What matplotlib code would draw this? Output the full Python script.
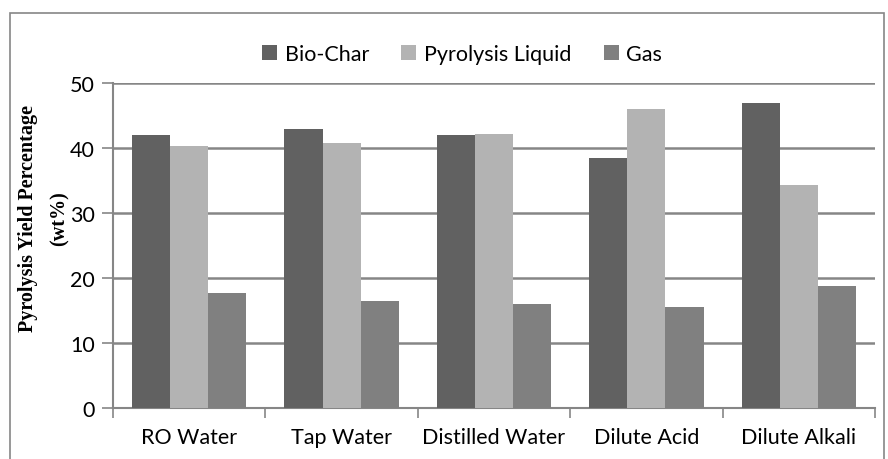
import matplotlib.pyplot as plt
import numpy as np
from matplotlib.patches import Rectangle

categories = ['RO Water', 'Tap Water', 'Distilled Water', 'Dilute Acid', 'Dilute Alkali']
bio_char = [42.0, 42.9, 42.0, 38.4, 46.9]
pyro_liquid = [40.3, 40.7, 42.1, 46.0, 34.3]
gas = [17.7, 16.5, 16.0, 15.6, 18.7]

series = ['Bio-Char', 'Pyrolysis Liquid', 'Gas']
colors = ['#616161', '#b3b3b3', '#808080']

fig = plt.figure(figsize=(8.88, 4.6), dpi=100)
ax = fig.add_axes([113/888, 1 - 409/460, 762/888, 325/460])

x = np.arange(len(categories))
w = 0.25
for i, (vals, name, c) in enumerate(zip([bio_char, pyro_liquid, gas], series, colors)):
    ax.bar(x + (i - 1) * w, vals, w, color=c, label=name, zorder=3)

ax.set_xlim(-0.5, len(categories) - 0.5)
ax.set_ylim(0, 50)
ax.set_yticks(range(0, 51, 10))
ax.yaxis.grid(True, color='#868686', linewidth=1.8, zorder=0)
ax.set_axisbelow(True)

for s in ['top', 'right']:
    ax.spines[s].set_visible(False)
for s in ['left', 'bottom']:
    ax.spines[s].set_color('#868686')
    ax.spines[s].set_linewidth(1.5)

fs = 15.5
ax.set_xticks(x)
ax.set_xticklabels(categories, fontsize=fs, fontfamily='Lato')
ax.tick_params(axis='x', length=0, pad=14)
ax.set_xticks(np.arange(-0.5, len(categories)), minor=True)
ax.tick_params(axis='x', which='minor', length=7, width=1.2, color='#868686')
ax.tick_params(axis='y', length=8, width=1.2, color='#868686', labelsize=fs, pad=5)
for lbl in ax.get_yticklabels():
    lbl.set_fontfamily('Lato')

fig.text(0.049, 0.525, 'Pyrolysis Yield Percentage\n(wt%)', rotation=90,
         ha='center', va='center', fontsize=14.5, fontweight='bold',
         fontfamily='Liberation Serif', linespacing=1.8, multialignment='center')

fig.legend(loc='center', bbox_to_anchor=(462/888, 1 - 55/460), ncol=3, frameon=False,
           prop={'family': 'Lato', 'size': fs}, handlelength=0.7, handleheight=0.7,
           handletextpad=0.35, columnspacing=1.5)

fig.patches.append(Rectangle((10/888, -0.05), 874/888, 1.05 - 14/460, transform=fig.transFigure,
                             fill=False, edgecolor='#868686', linewidth=1.2))

fig.savefig('out.png', dpi=100)
